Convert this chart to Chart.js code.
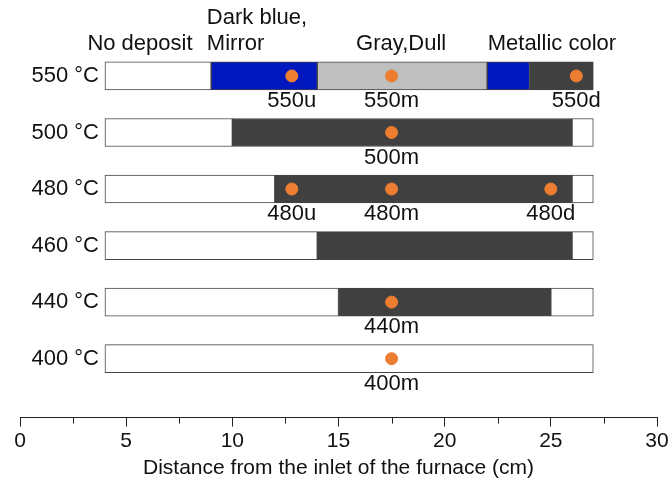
<!DOCTYPE html>
<html><head><meta charset="utf-8">
<script src="https://cdn.jsdelivr.net/npm/chart.js@4/dist/chart.umd.min.js"></script>
<style>html,body{margin:0;padding:0;background:#fff}#wrap{width:672px;height:485px}</style>
</head><body><div id="wrap"><canvas id="c" width="672" height="485"></canvas></div>
<script>
// Rows (top to bottom)
const rowLabels = ['550 °C','500 °C','480 °C','460 °C','440 °C','400 °C'];
// Segments per row: [start, end] in cm, null when absent
const noDepositA = [[4,9],[4,10],[4,12],[4,14],[4,15],[4,27]];
const noDepositB = [null,[26,27],[26,27],[26,27],[25,27],null];
const darkBlueA  = [[9,14],null,null,null,null,null];
const grayDull   = [[14,22],null,null,null,null,null];
const darkBlueB  = [[22,24],null,null,null,null,null];
const metallic   = [[24,27],[10,26],[12,26],[14,26],[15,25],null];
// Sample points
const sampleNames = ['550u','550m','550d','500m','480u','480m','480d','440m','400m'];
const sampleX     = [12.8,17.5,26.2,17.5,12.8,17.5,25.0,17.5,17.5];
const sampleRow   = [0,0,0,1,2,2,2,4,5];
// Header labels over the first row
const headerTexts = ['No deposit','Dark blue,','Mirror','Gray,Dull','Metallic color'];
const xTicks = [0,5,10,15,20,25,30];

const FONT = '"Liberation Sans", Arial, sans-serif';
function seg(arr){ const out=[]; arr.forEach((v,i)=>{ if(v) out.push({x:v, y:i}); }); return out; }
function barDs(label, arr, color){
  return {type:'bar', label, data:seg(arr), backgroundColor:color, borderColor:'#444',
    borderWidth:1, borderSkipped:false, barThickness:28, grouped:false, order:1};
}
const headerPos = [
  {x:5.65, y:-0.56, align:'center'},
  {x:8.8, y:-1.03, align:'left'},
  {x:8.8, y:-0.56, align:'left'},
  {x:17.95, y:-0.56, align:'center'},
  {x:25.05, y:-0.56, align:'center'}
];
const annot = {
  id:'annot',
  afterDraw(chart){
    const ctx=chart.ctx, xs=chart.scales.x, ys=chart.scales.y;
    ctx.save();
    ctx.fillStyle='#111';
    ctx.font='22px '+FONT;
    ctx.textBaseline='middle';
    ctx.textAlign='right';
    rowLabels.forEach((t,i)=>ctx.fillText(t, xs.getPixelForValue(4)-6, ys.getPixelForValue(i)));
    ctx.textAlign='center';
    sampleNames.forEach((t,i)=>ctx.fillText(t, xs.getPixelForValue(sampleX[i]), ys.getPixelForValue(sampleRow[i])+25));
    headerTexts.forEach((t,i)=>{ const p=headerPos[i]; ctx.textAlign=p.align; ctx.fillText(t, xs.getPixelForValue(p.x), ys.getPixelForValue(p.y)); });
    ctx.strokeStyle='#222'; ctx.lineWidth=1;
    const yb = chart.chartArea.bottom;
    for(let v=2.5; v<30; v+=5){ const px=Math.round(xs.getPixelForValue(v))+0.5; ctx.beginPath(); ctx.moveTo(px,yb); ctx.lineTo(px,yb+6); ctx.stroke(); }
    ctx.restore();
  }
};
new Chart(document.getElementById('c'), {
  data:{datasets:[
    {type:'scatter', label:'samples', data:sampleX.map((x,i)=>({x, y:sampleRow[i]})),
     backgroundColor:'#ED7D31', borderColor:'#ED7D31', pointRadius:6, pointHoverRadius:6, order:0},
    barDs('No deposit', noDepositA, '#ffffff'),
    barDs('No deposit', noDepositB, '#ffffff'),
    barDs('Dark blue, Mirror', darkBlueA, '#0018BE'),
    barDs('Gray, Dull', grayDull, '#BFBFBF'),
    barDs('Dark blue, Mirror', darkBlueB, '#0018BE'),
    barDs('Metallic color', metallic, '#404040')
  ]},
  options:{
    indexAxis:'y', responsive:false, animation:false,
    layout:{autoPadding:false, padding:{left:20, right:15, top:0, bottom:4}},
    plugins:{legend:{display:false}, tooltip:{enabled:false}},
    scales:{
      x:{type:'linear', position:'bottom', min:0, max:30,
         afterBuildTicks(s){ s.ticks = xTicks.map(v=>({value:v})); },
         grid:{drawOnChartArea:false, drawTicks:true, tickLength:9, color:'#222'},
         border:{display:true, color:'#222', width:1},
         ticks:{color:'#111', font:{size:21, family:FONT}, padding:2, maxRotation:0},
         title:{display:true, text:'Distance from the inlet of the furnace (cm)', color:'#111', font:{size:21, family:FONT}, padding:{top:0,bottom:0}}
      },
      y:{type:'linear', reverse:true, offset:false, bounds:'data', min:-1.343, max:6.042, display:false,
         afterDataLimits(s){ s.min=-1.343; s.max=6.042; }}
    }
  },
  plugins:[annot]
});
</script></body></html>
